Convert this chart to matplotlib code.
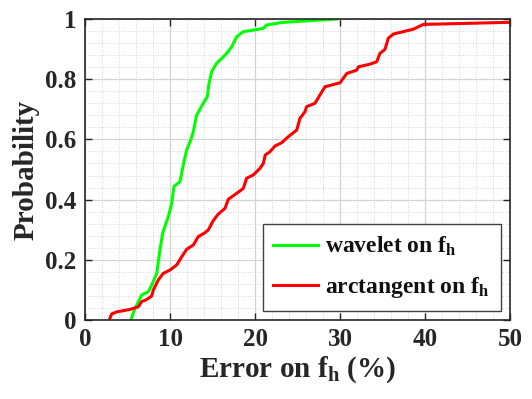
import matplotlib
matplotlib.use("Agg")
import matplotlib.pyplot as plt
from matplotlib.ticker import MultipleLocator

plt.rcParams['font.family'] = ['Liberation Serif', 'DejaVu Serif']
plt.rcParams['font.weight'] = 'bold'
plt.rcParams['mathtext.fontset'] = 'custom'
plt.rcParams['mathtext.rm'] = 'Liberation Serif:bold'
plt.rcParams['mathtext.bf'] = 'Liberation Serif:bold'
plt.rcParams['mathtext.it'] = 'Liberation Serif:bold'

# error values (%) and cumulative probability
wavelet_x = [5.41, 5.8, 6.67, 7.45, 7.85, 8.44, 8.82, 9.14, 9.8, 10.2, 10.47, 11.18, 11.56,
             11.96, 12.44, 12.74, 13.14, 13.92, 14.39, 14.59, 14.9, 15.49, 16.08, 16.67,
             17.26, 17.85, 18.62, 19.8, 20.98, 21.38, 23.06, 24.5, 29.6]
wavelet_y = [0.0, 0.033, 0.083, 0.094, 0.116, 0.155, 0.233, 0.289, 0.343, 0.388, 0.444, 0.46, 0.515,
             0.565, 0.598, 0.625, 0.681, 0.72, 0.742, 0.786, 0.825, 0.853, 0.869, 0.886,
             0.908, 0.941, 0.958, 0.963, 0.969, 0.98, 0.988, 0.991, 1.0]

arctan_x = [2.94, 3.14, 3.73, 5.29, 6.27, 6.67, 7.26, 7.85, 8.04, 8.62, 9.21, 10.0, 10.79,
            11.38, 11.96, 12.74, 13.33, 14.12, 14.5, 15.09, 15.68, 16.47, 16.86, 17.85,
            18.62, 19.02, 19.8, 20.59, 20.98, 21.2, 21.76, 22.35, 23.14, 23.92, 24.91,
            25.29, 25.88, 26.08, 27.06, 27.65, 28.24, 30.0, 30.79, 31.96, 32.16, 33.53,
            34.32, 34.71, 35.29, 35.68, 36.27, 38.62, 39.8, 50.0]
arctan_y = [0.006, 0.02, 0.027, 0.035, 0.044, 0.061, 0.068, 0.08, 0.1, 0.133, 0.155, 0.166, 0.183,
            0.21, 0.235, 0.249, 0.277, 0.29, 0.299, 0.33, 0.352, 0.371, 0.401, 0.421,
            0.437, 0.471, 0.482, 0.504, 0.52, 0.548, 0.559, 0.578, 0.589, 0.609, 0.631,
            0.67, 0.692, 0.709, 0.72, 0.748, 0.775, 0.788, 0.819, 0.83, 0.841, 0.85,
            0.858, 0.886, 0.899, 0.936, 0.95, 0.966, 0.982, 0.989]

fig = plt.figure(figsize=(5.32, 3.99), dpi=100)
ax = fig.add_axes([85/532, 79/399, 425/532, 301/399])

ax.plot(wavelet_x, wavelet_y, color='#00ff00', lw=2.2, label=r'wavelet on f$_\mathrm{h}$')
ax.plot(arctan_x, arctan_y, color='#ff0000', lw=2.2, label=r'arctangent on f$_\mathrm{h}$')

ax.set_xlim(0, 50)
ax.set_ylim(0, 1)
ax.xaxis.set_major_locator(MultipleLocator(10))
ax.xaxis.set_minor_locator(MultipleLocator(2))
ax.yaxis.set_major_locator(MultipleLocator(0.2))
ax.yaxis.set_minor_locator(MultipleLocator(0.04))
ax.set_yticks([0, 0.2, 0.4, 0.6, 0.8, 1.0])
ax.set_yticklabels(['0', '0.2', '0.4', '0.6', '0.8', '1'])

ax.grid(which='major', color='#d4d4d4', lw=0.9, ls='-')
ax.grid(which='minor', color='#c8c8c8', lw=0.6, ls=(0, (1, 2)))
ax.set_axisbelow(True)

ax.tick_params(which='major', direction='in', length=5, width=1, top=True, right=True,
               labelsize=18, colors='#262626', pad=6)
ax.tick_params(which='minor', length=0)
for s in ax.spines.values():
    s.set_color('#262626')
    s.set_linewidth(1.2)

ax.set_xlabel(r'Error on f$_\mathrm{h}$ (%)', fontsize=21, fontweight='bold',
              color='#262626', labelpad=2)
ax.set_ylabel('Probability', fontsize=21, fontweight='bold', color='#262626', labelpad=4)

leg = ax.legend(loc='lower right', prop={'weight': 'bold', 'size': 17}, fancybox=False,
                framealpha=1, edgecolor='#404040', handlelength=1.9, handletextpad=0.3,
                borderaxespad=0.4, borderpad=0.45, labelspacing=0.7)
leg.get_frame().set_linewidth(1.0)
for t in leg.get_texts():
    t.set_color('#111111')
    t.set_fontweight('bold')

fig.savefig('out.png', dpi=100)
